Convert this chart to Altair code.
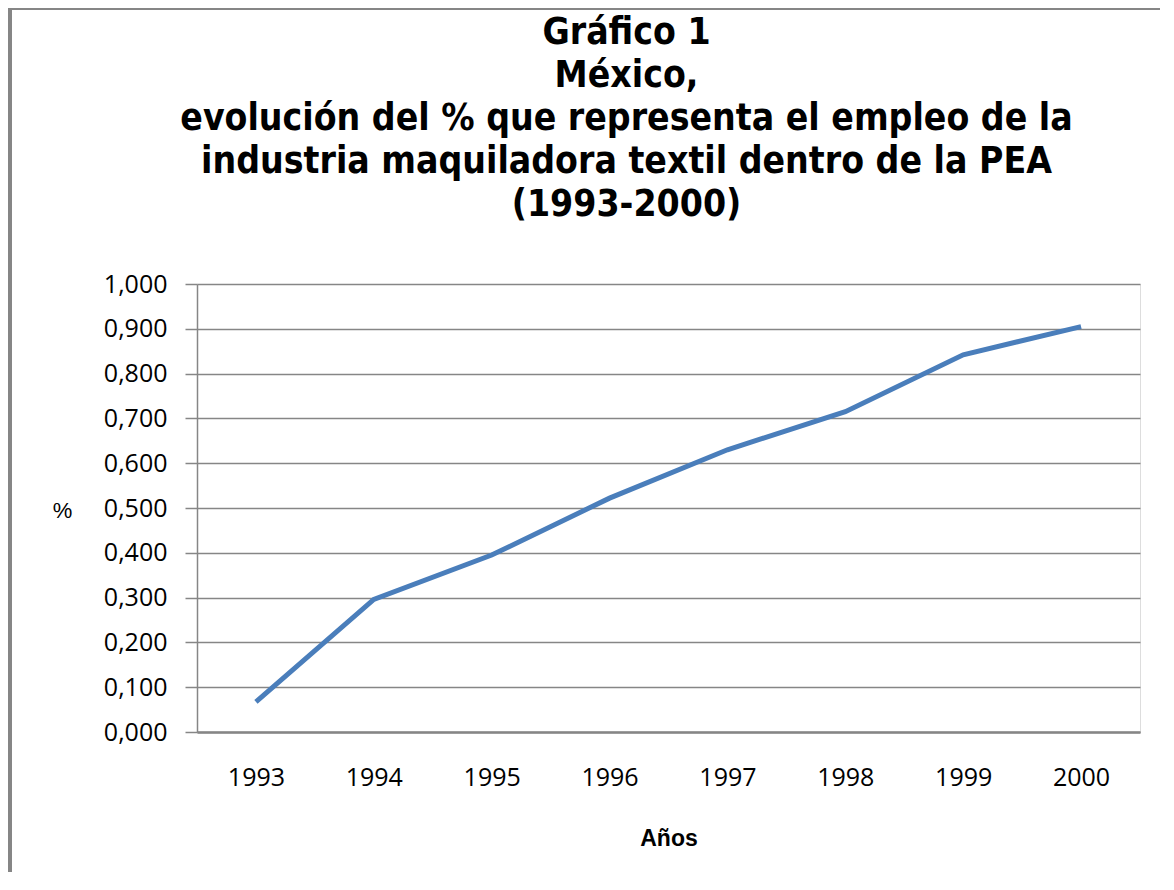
import altair as alt
import pandas as pd

years = ["1993", "1994", "1995", "1996", "1997", "1998", "1999", "2000"]
values = [0.067, 0.296, 0.395, 0.522, 0.630, 0.715, 0.842, 0.905]

df = pd.DataFrame({"Año": years, "valor": values})

W, H = 943, 448
GRAY = "#868686"

line = alt.Chart(df).mark_line(color="#4a7ebb", strokeWidth=5).encode(
    x=alt.X("Año:N", sort=years,
            scale=alt.Scale(type="point", padding=0.5),
            axis=alt.Axis(title="Años", labelAngle=0, ticks=False,
                          labelFont="Open Sans", labelFontSize=25, labelColor="#000000",
                          labelPadding=33, domainColor=GRAY, domainWidth=2.5,
                          titleFont="Liberation Sans", titleFontSize=23, titleFontWeight="bold",
                          titleColor="#000000", titleY=106, titleBaseline="middle")),
    y=alt.Y("valor:Q",
            scale=alt.Scale(domain=[0, 1], nice=False),
            axis=alt.Axis(title="%", values=[i / 10 for i in range(11)],
                          labelExpr="replace(format(datum.value, '.3f'), '.', ',')",
                          labelFont="Open Sans", labelFontSize=25, labelColor="#000000",
                          labelPadding=18, tickSize=12, tickColor=GRAY, tickWidth=1.5,
                          domainColor=GRAY, domainWidth=1.5,
                          grid=True, gridColor=GRAY, gridWidth=1.5,
                          titleAngle=0, titleX=-135, titleY=226, titleAlign="center",
                          titleBaseline="middle", titleFont="Liberation Sans",
                          titleFontSize=22, titleFontWeight="normal", titleColor="#000000")),
)

border_left = alt.Chart(df).mark_rule(color=GRAY, strokeWidth=3).encode(
    x=alt.value(-187), y=alt.value(-276), y2=alt.value(H + 140))
border_top = alt.Chart(df).mark_rule(color=GRAY, strokeWidth=1.5).encode(
    y=alt.value(-275), x=alt.value(-188), x2=alt.value(W + 20))

chart = alt.layer(line, border_left, border_top).properties(
    width=W, height=H,
    autosize=alt.AutoSizeParams(type="none"),
    padding={"left": 189, "top": 276, "right": 20, "bottom": 140},
    title=alt.TitleParams(
        text=["Gráfico 1", "México,",
              "evolución del % que representa el empleo de la",
              "industria maquiladora textil dentro de la PEA",
              "(1993-2000)"],
        font="DejaVu Sans Condensed, Liberation Sans", fontSize=37, fontWeight="bold",
        color="#000000", anchor="middle", frame="group", dx=-42, offset=60,
        dy=277, lineHeight=43),
).configure_view(stroke=None).configure(background="#ffffff")

chart.save("out.html", embed_options={"renderer": "svg", "actions": False})
